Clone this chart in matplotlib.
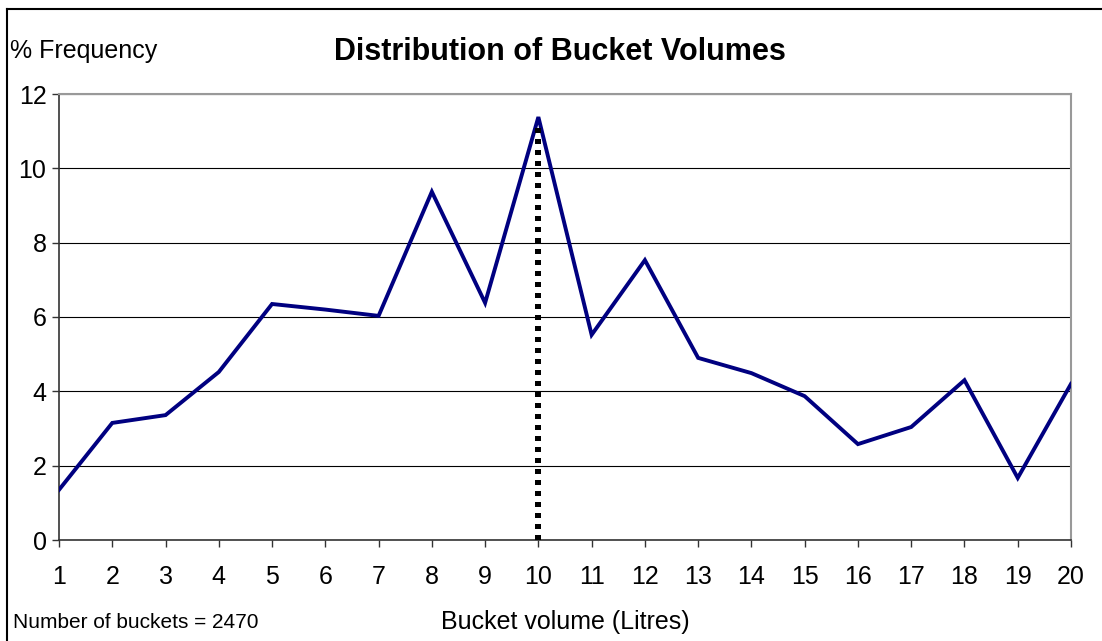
import matplotlib
matplotlib.use("Agg")
import matplotlib.pyplot as plt
from matplotlib.lines import Line2D

plt.rcParams['font.family'] = ['Liberation Sans', 'DejaVu Sans']

volumes = list(range(1, 21))
freq = [1.35, 3.15, 3.36, 4.52, 6.35, 6.2, 6.03, 9.37, 6.38, 11.38,
        5.52, 7.53, 4.9, 4.49, 3.87, 2.58, 3.04, 4.30, 1.67, 4.20]
peak_vol = 10
n_buckets = 2470

fig = plt.figure(figsize=(11.02, 6.41), dpi=100)
ax = fig.add_axes([59/1102, 101/641, (1071-59)/1102, (540-94)/641])

ax.plot(volumes, freq, color='#000080', lw=2.8, solid_joinstyle='miter', zorder=3)
# dotted marker at the modal volume
ax.plot([peak_vol, peak_vol], [0, freq[volumes.index(peak_vol)] - 0.3], color='black',
        lw=4.2, linestyle=(0, (0.85, 1.15)), antialiased=False, zorder=4)

ax.set_xlim(1, 20)
ax.set_ylim(0, 12)
ax.set_xticks(volumes)
ax.set_yticks(range(0, 13, 2))
ax.tick_params(labelsize=18, length=5, width=1, color='#333333')
ax.tick_params(axis='x', pad=13)
ax.tick_params(axis='y', pad=4)
ax.grid(axis='y', color='black', lw=0.8)
ax.set_axisbelow(True)
for s in ['top', 'right']:
    ax.spines[s].set_color('#999999')
    ax.spines[s].set_linewidth(1.5)
for s in ['left', 'bottom']:
    ax.spines[s].set_color('#333333')
    ax.spines[s].set_linewidth(1.2)

fig.text(560/1102, 1 - 52/641, 'Distribution of Bucket Volumes', ha='center', va='center',
         fontsize=22, fontweight='bold')
fig.text(10/1102, 1 - 51/641, '% Frequency', ha='left', va='center', fontsize=18)
fig.text(565/1102, 1 - 622/641, 'Bucket volume (Litres)', ha='center', va='center', fontsize=18)
fig.text(13/1102, 1 - 623/641, 'Number of buckets = %d' % n_buckets, ha='left', va='center',
         fontsize=15)

# outer chart frame (top and left edges)
fig.add_artist(Line2D([7/1102, 1], [1 - 9/641, 1 - 9/641], color='black', lw=1.5))
fig.add_artist(Line2D([7/1102, 7/1102], [0, 1 - 9/641], color='black', lw=1.5))

fig.savefig('out.png', dpi=100)
